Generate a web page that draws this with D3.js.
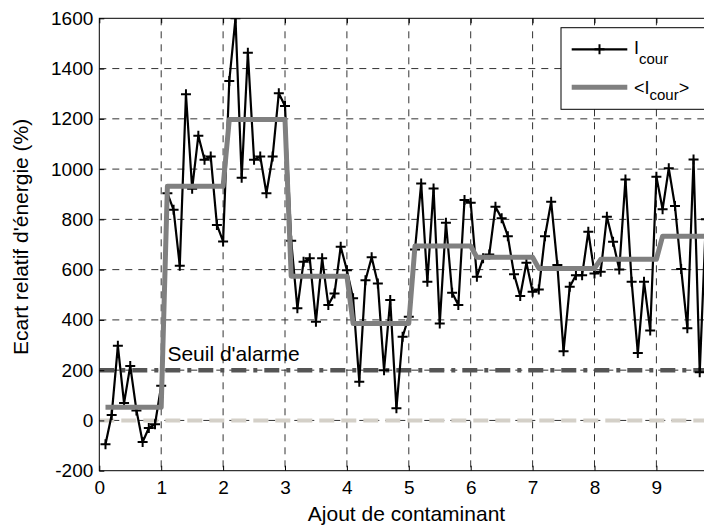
<!DOCTYPE html>
<html><head><meta charset="utf-8">
<script src="https://cdn.jsdelivr.net/npm/d3@7"></script>
<style>
html,body{margin:0;padding:0;background:#fff;}
svg{display:block;font-family:"Liberation Sans",Arial,sans-serif;}
</style></head>
<body>
<svg id="chart" width="704" height="525"></svg>
<script>
// ---- data ----
const xValues = [
 0.1,0.2,0.3,0.4,0.5,0.6,0.7,0.8,0.9,1.0,
 1.1,1.2,1.3,1.4,1.5,1.6,1.7,1.8,1.9,2.0,
 2.1,2.2,2.3,2.4,2.5,2.6,2.7,2.8,2.9,3.0,
 3.1,3.2,3.3,3.4,3.5,3.6,3.7,3.8,3.9,4.0,
 4.1,4.2,4.3,4.4,4.5,4.6,4.7,4.8,4.9,5.0,
 5.1,5.2,5.3,5.4,5.5,5.6,5.7,5.8,5.9,6.0,
 6.1,6.2,6.3,6.4,6.5,6.6,6.7,6.8,6.9,7.0,
 7.1,7.2,7.3,7.4,7.5,7.6,7.7,7.8,7.9,8.0,
 8.1,8.2,8.3,8.4,8.5,8.6,8.7,8.8,8.9,9.0,
 9.1,9.2,9.3,9.4,9.5,9.6,9.7,9.8];
const iCour = [
 -95,22,297,69,217,40,-86,-30,-15,138,
 904,838,615,1298,922,1133,1037,1050,778,712,
 1351,1600,966,1463,1037,1050,904,1050,1302,1251,
 715,446,631,645,393,645,459,505,691,598,
 486,154,558,649,545,200,479,48,333,413,
 680,943,552,923,386,787,508,459,877,866,
 572,645,660,850,804,733,582,495,627,512,
 521,733,870,618,275,532,578,578,751,585,
 592,810,711,601,959,552,268,552,358,970,
 840,1003,853,603,367,1038,192,800];
// mean of each addition step (segments 0-1, 1-2, ... 9-10)
const segmentMeans = [52, 932, 1197, 574, 386, 694, 649, 605, 641, 733];
const xTicks = [0,1,2,3,4,5,6,7,8,9,10];
const xTickLabels = ["0","1","2","3","4","5","6","7","8","9",""];
const yTicks = [-200,0,200,400,600,800,1000,1200,1400,1600];
const yTickLabels = ["-200","0","200","400","600","800","1000","1200","1400","1600"];
const alarmLevel = 200;
const zeroLevel = 0;
const xLabel = "Ajout de contaminant";
const yLabel = "Ecart relatif d'énergie (%)";
const alarmText = "Seuil d'alarme";

// ---- drawing ----
const svg = d3.select("#chart");
const L = 99.3, R = 718.3, T = 18.3, B = 470.7;
const x = d3.scaleLinear().domain([0,10]).range([L,R]);
const y = d3.scaleLinear().domain([-200,1600]).range([B,T]);

svg.append("defs").append("clipPath").attr("id","plotclip")
  .append("rect").attr("x",L).attr("y",T).attr("width",R-L).attr("height",B-T);

// grid
const grid = svg.append("g").attr("stroke","#333").attr("stroke-width",1).attr("stroke-dasharray","7,6");
grid.selectAll("line.v").data(xTicks.filter(d=>d>0 && d<10)).join("line")
  .attr("x1",d=>x(d)).attr("x2",d=>x(d)).attr("y1",T).attr("y2",B);
grid.selectAll("line.h").data(yTicks.filter(d=>d>-200 && d<1600)).join("line")
  .attr("y1",d=>y(d)).attr("y2",d=>y(d)).attr("x1",L).attr("x2",R);

const plot = svg.append("g").attr("clip-path","url(#plotclip)");
// zero line
plot.append("line").attr("x1",x(0)).attr("x2",x(10)).attr("y1",y(zeroLevel)).attr("y2",y(zeroLevel))
  .attr("stroke","#d4d0c8").attr("stroke-width",4).attr("stroke-dasharray","15,7");
// alarm threshold
plot.append("line").attr("x1",x(0)).attr("x2",x(10)).attr("y1",y(alarmLevel)).attr("y2",y(alarmLevel))
  .attr("stroke","#555").attr("stroke-width",4.5).attr("stroke-dasharray","15,7,4,7");

// current series
const pts = xValues.map((v,i)=>({x:v,y:iCour[i]}));
const line = d3.line().x(d=>x(d.x)).y(d=>y(d.y));
plot.append("path").datum(pts).attr("d",line).attr("fill","none")
  .attr("stroke","#000").attr("stroke-width",2.2).attr("stroke-linejoin","round");
plot.selectAll("path.mk").data(pts).join("path").attr("class","mk")
  .attr("d",d=>`M${x(d.x)-5},${y(d.y)}H${x(d.x)+5}M${x(d.x)},${y(d.y)-5}V${y(d.y)+5}`)
  .attr("stroke","#000").attr("stroke-width",2);

// mean series
const meanPts = xValues.map(v=>({x:v,y:segmentMeans[Math.min(9,Math.ceil(v-1e-9)-1)]}));
plot.append("path").datum(meanPts).attr("d",line).attr("fill","none")
  .attr("stroke","#808080").attr("stroke-width",5).attr("stroke-linejoin","round");

// alarm text
svg.append("text").attr("x",x(1.1)).attr("y",y(236)).attr("font-size",21).attr("fill","#000").text(alarmText);

// axes
const fs = 19;
const gx = svg.append("g").attr("transform",`translate(0,${B})`)
  .call(d3.axisBottom(x).tickValues(xTicks).tickFormat((d,i)=>xTickLabels[i]).tickSize(-5).tickPadding(9.8));
const gxt = svg.append("g").attr("transform",`translate(0,${T})`)
  .call(d3.axisTop(x).tickValues(xTicks).tickFormat("").tickSize(-5));
const gy = svg.append("g").attr("transform",`translate(${L},0)`)
  .call(d3.axisLeft(y).tickValues(yTicks).tickFormat((d,i)=>yTickLabels[i]).tickSize(-5).tickPadding(6));
const gyr = svg.append("g").attr("transform",`translate(${R},0)`)
  .call(d3.axisRight(y).tickValues(yTicks).tickFormat("").tickSize(-5));
[gx,gxt,gy,gyr].forEach(g=>{
  g.select(".domain").remove();
  g.selectAll("line").attr("stroke","#000");
  g.selectAll("text").attr("font-size",fs).attr("fill","#000").attr("font-family","Liberation Sans, Arial, sans-serif");
});
svg.append("rect").attr("x",L).attr("y",T).attr("width",R-L).attr("height",B-T)
  .attr("fill","none").attr("stroke","#000").attr("stroke-width",1);

// axis titles
svg.append("text").attr("x",406.5).attr("y",520.5).attr("text-anchor","middle").attr("font-size",21).attr("fill","#000").text(xLabel);
svg.append("text").attr("transform","translate(27.5,355) rotate(-90)").attr("text-anchor","start")
  .attr("font-size",21).attr("fill","#000").text(yLabel);

// legend
const lg = svg.append("g");
lg.append("rect").attr("x",561).attr("y",27.7).attr("width",160).attr("height",81.6)
  .attr("fill","#fff").attr("stroke","#000").attr("stroke-width",1);
lg.append("line").attr("x1",571.7).attr("x2",627.3).attr("y1",49.3).attr("y2",49.3).attr("stroke","#000").attr("stroke-width",2.2);
lg.append("path").attr("d",`M594.5,49.3H604.5M599.5,44.3V54.3`).attr("stroke","#000").attr("stroke-width",2);
lg.append("line").attr("x1",571.7).attr("x2",627.3).attr("y1",87.3).attr("y2",87.3).attr("stroke","#808080").attr("stroke-width",5);
const t1 = lg.append("text").attr("x",634).attr("y",54).attr("font-size",18).attr("fill","#000");
t1.append("tspan").text("I");
t1.append("tspan").attr("dy",9.5).attr("font-size",15).text("cour");
const t2 = lg.append("text").attr("x",634).attr("y",93.5).attr("font-size",18).attr("fill","#000");
t2.append("tspan").text("<I");
t2.append("tspan").attr("dy",6.5).attr("font-size",15).text("cour");
t2.append("tspan").attr("dy",-6.5).text(">");
</script>
</body></html>
